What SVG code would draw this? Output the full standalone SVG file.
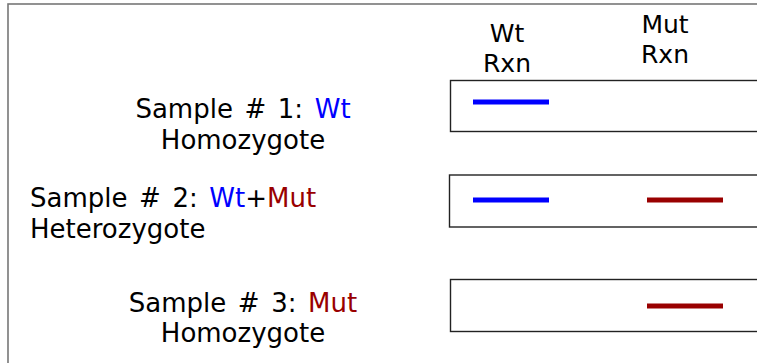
<svg xmlns="http://www.w3.org/2000/svg" width="757" height="363" viewBox="0 0 757 363">
<style>
text{font-family:"DejaVu Sans","Verdana",sans-serif;font-size:26px;fill:#000}
.s{word-spacing:3.3px}
.hd{font-size:25px}
.wt{fill:#0000ff}
.mut{fill:#990000}
.box{fill:#fff;stroke:#222;stroke-width:1.4}
.bw{stroke:#0000ff;stroke-width:5}
.bm{stroke:#990000;stroke-width:5}
</style>
<rect x="0" y="0" width="757" height="363" fill="#fff"/>
<rect x="8" y="4" width="780" height="400" fill="none" stroke="#777" stroke-width="1.6"/>
<g id="header">
<text class="hd" x="507" y="42" text-anchor="middle">Wt</text>
<text class="hd" x="507" y="72" text-anchor="middle">Rxn</text>
<text class="hd" x="665" y="33" text-anchor="middle">Mut</text>
<text class="hd" x="665" y="63" text-anchor="middle">Rxn</text>
</g>
<g id="sample1">
<text class="s" x="243" y="118" text-anchor="middle">Sample # 1: <tspan class="wt">Wt</tspan></text>
<text x="243" y="149" text-anchor="middle">Homozygote</text>
</g>
<g id="sample2">
<text class="s" x="30" y="207">Sample # 2: <tspan class="wt">Wt</tspan>+<tspan class="mut">Mut</tspan></text>
<text x="30" y="238">Heterozygote</text>
</g>
<g id="sample3">
<text class="s" x="243" y="312" text-anchor="middle">Sample # 3: <tspan class="mut">Mut</tspan></text>
<text x="243" y="342" text-anchor="middle">Homozygote</text>
</g>
<g id="lane1">
<rect class="box" x="450.5" y="80.5" width="340" height="51"/>
<line class="bw" x1="473" y1="102" x2="549" y2="102"/>
</g>
<g id="lane2">
<rect class="box" x="449.5" y="175" width="340" height="52"/>
<line class="bw" x1="473" y1="200" x2="549" y2="200"/>
<line class="bm" x1="647" y1="200" x2="723" y2="200"/>
</g>
<g id="lane3">
<rect class="box" x="450.5" y="279.5" width="340" height="52"/>
<line class="bm" x1="647" y1="306" x2="723" y2="306"/>
</g>
</svg>
